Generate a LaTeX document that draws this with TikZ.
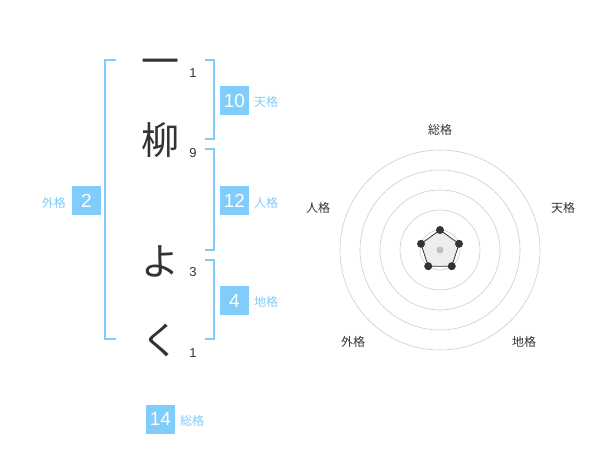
\documentclass[tikz,border=0pt]{standalone}
\usepackage{fontspec}
\setmainfont{Liberation Sans}
\newfontfamily\jp{Noto Sans CJK JP}
\definecolor{sky}{HTML}{80CCFA}
\definecolor{ink}{HTML}{333333}
\definecolor{ring}{HTML}{CCCCCC}
\tikzset{
  kanji/.style={text=ink, font=\jp\fontsize{38}{38}\selectfont, inner sep=0pt},
  strokes/.style={text=ink, font=\fontsize{13}{13}\selectfont, inner sep=0pt},
  numbox/.style={fill=sky, text=white, minimum width=29pt, minimum height=29pt, inner sep=0pt, font=\fontsize{19}{19}\selectfont},
  kaku/.style={text=sky, font=\jp\fontsize{12}{12}\selectfont, inner sep=0pt},
  bracket/.style={draw=sky, line width=1.5pt},
  radlabel/.style={text=ink, font=\jp\fontsize{12}{12}\selectfont, inner sep=0pt},
  ringline/.style={draw=ring, line width=0.6pt},
  dot/.style={circle, fill=ink, inner sep=0pt, minimum size=8pt},
}
\begin{document}
\begin{tikzpicture}[x=1pt,y=-1pt]
\useasboundingbox (0,0) rectangle (600,470);
% characters
\node[kanji] (c1) at (160,67) {一};
\node[kanji] (c2) at (160,140) {柳};
\node[kanji] (c3) at (160,261) {よ};
\node[kanji] (c4) at (160,340) {く};
\node[strokes] (s1) at (193,73) {1};
\node[strokes] (s2) at (193,153) {9};
\node[strokes] (s3) at (193,272) {3};
\node[strokes] (s4) at (193,353) {1};
% brackets
\draw[bracket] (116,60) -- (105,60) -- (105,339) -- (116,339);
\draw[bracket] (205,60) -- (214,60) -- (214,139) -- (205,139);
\draw[bracket] (205,149) -- (214,149) -- (214,250) -- (205,250);
\draw[bracket] (205,260) -- (214,260) -- (214,339) -- (205,339);
% boxes
\node[numbox] (ten) at (234.5,100.5) {10};
\node[kaku, anchor=west] (tenl) at (254,102) {天格};
\node[numbox] (jin) at (234.5,201) {12};
\node[kaku, anchor=west] (jinl) at (254,203) {人格};
\node[numbox] (chi) at (234.5,300.5) {4};
\node[kaku, anchor=west] (chil) at (254,302) {地格};
\node[numbox] (gai) at (86.5,201) {2};
\node[kaku, anchor=east] (gail) at (66,203) {外格};
\node[numbox] (sou) at (160.5,419) {14};
\node[kaku, anchor=west] (soul) at (180,421) {総格};
% radar
\coordinate (o) at (440,250);
\foreach \r in {20,40,60,80,100} \draw[ringline] (o) circle[radius=\r];
\fill[black!7] (440,230) -- (459.0,243.8) -- (451.8,266.2) -- (428.2,266.2) -- (421.0,243.8) -- cycle;
\fill[black!25] (o) circle[radius=3.5];
\draw[ink, line width=0.8pt] (440,230) -- (459.0,243.8) -- (451.8,266.2) -- (428.2,266.2) -- (421.0,243.8) -- cycle;
\node[dot] (p1) at (440,230) {};
\node[dot] (p2) at (459.0,243.8) {};
\node[dot] (p3) at (451.8,266.2) {};
\node[dot] (p4) at (428.2,266.2) {};
\node[dot] (p5) at (421.0,243.8) {};
\node[radlabel] (r1) at (440,130) {総格};
\node[radlabel] (r2) at (563,208) {天格};
\node[radlabel] (r3) at (524,342) {地格};
\node[radlabel] (r4) at (353,342) {外格};
\node[radlabel] (r5) at (318,208) {人格};
\end{tikzpicture}
\end{document}
